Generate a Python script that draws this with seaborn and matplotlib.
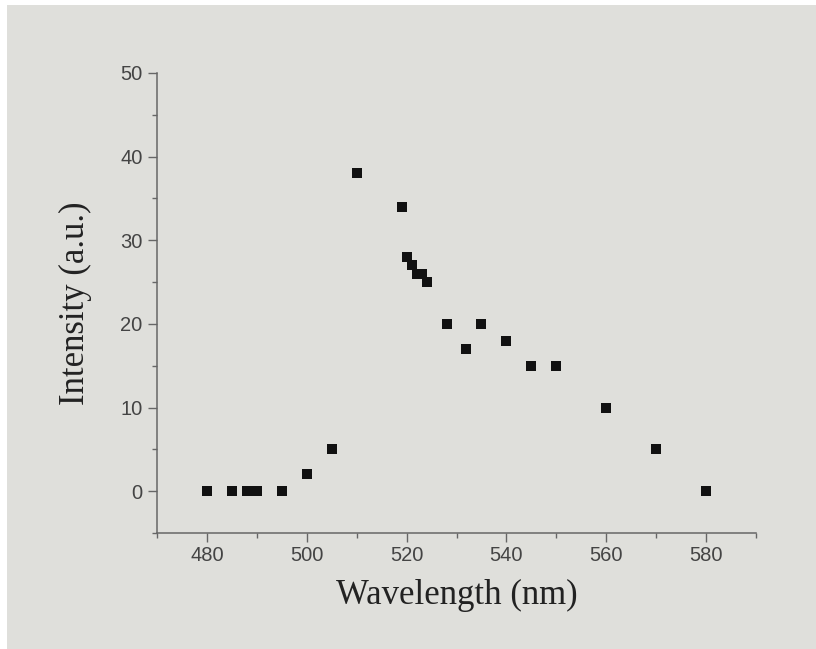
import matplotlib
matplotlib.use("Agg")
import matplotlib.pyplot as plt
import matplotlib.patches as mpatches
from matplotlib.ticker import MultipleLocator
import pandas as pd
import seaborn as sns

# Emission intensity versus wavelength
wavelength = [480, 485, 488, 490, 495, 500, 505, 510, 519, 520, 521, 522,
              523, 524, 528, 532, 535, 540, 545, 550, 560, 570, 580]
intensity = [0, 0, 0, 0, 0, 2, 5, 38, 34, 28, 27, 26,
             26, 25, 20, 17, 20, 18, 15, 15, 10, 5, 0]
x_ticks = [480, 500, 520, 540, 560, 580]
y_ticks = [0, 10, 20, 30, 40, 50]

df = pd.DataFrame({"Wavelength": wavelength, "Intensity": intensity})

sns.set_theme(style="ticks")
panel = "#dfdfdb"
axis_grey = "#666666"

fig = plt.figure(figsize=(8.16, 6.49), dpi=100, facecolor="white")
fig.patches.append(mpatches.Rectangle((7 / 816, 0), 1, 1 - 5 / 649,
                                      transform=fig.transFigure,
                                      facecolor=panel, edgecolor="none",
                                      zorder=-10))
ax = fig.add_axes([157 / 816, 1 - 533 / 649, (756 - 157) / 816, (533 - 73) / 649])
ax.set_zorder(5)
ax.set_facecolor("none")

sns.scatterplot(data=df, x="Wavelength", y="Intensity", marker="s", s=52,
                color="#111111", edgecolor="none", linewidth=0, ax=ax,
                clip_on=False, zorder=3)

ax.set_xlim(470, 590)
ax.set_ylim(-5, 50)
ax.set_xticks(x_ticks)
ax.set_yticks(y_ticks)
ax.xaxis.set_minor_locator(MultipleLocator(10))
ax.yaxis.set_minor_locator(MultipleLocator(5))

for side in ("top", "right"):
    ax.spines[side].set_visible(False)
for side in ("left", "bottom"):
    ax.spines[side].set_color(axis_grey)
    ax.spines[side].set_linewidth(1.1)

tick_font = ["Liberation Sans", "DejaVu Sans"]
ax.tick_params(which="major", direction="out", length=6.5, width=1.0,
               color=axis_grey, labelcolor="#444444", labelsize=14.5)
ax.tick_params(axis="y", which="major", pad=4)
ax.tick_params(axis="x", which="major", pad=3)
ax.tick_params(which="minor", direction="out", length=3.5, width=1.0,
               color=axis_grey)
for lab in ax.get_xticklabels() + ax.get_yticklabels():
    lab.set_family(tick_font)

label_font = ["Liberation Serif", "DejaVu Serif"]
ax.set_xlabel("Wavelength (nm)", family=label_font, fontsize=25,
              color="#222222", labelpad=10)
ax.set_ylabel("Intensity (a.u.)", family=label_font, fontsize=25,
              color="#222222", labelpad=20)

fig.savefig("out.png", dpi=100, facecolor=fig.get_facecolor())
